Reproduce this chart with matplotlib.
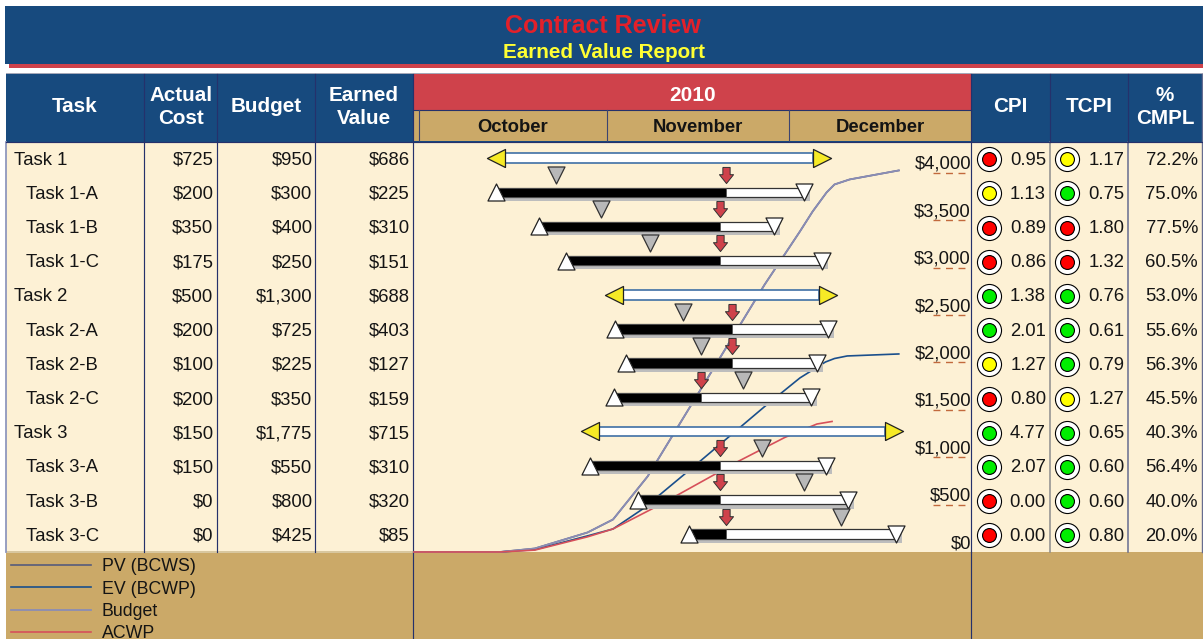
import matplotlib
matplotlib.use('Agg')
import matplotlib.pyplot as plt
from matplotlib.markers import MarkerStyle
from matplotlib.path import Path
from matplotlib.patches import Rectangle
from matplotlib.transforms import blended_transform_factory

plt.rcParams['font.family'] = ['Liberation Sans', 'DejaVu Sans']

###############################################################################
## data
###############################################################################

tasks = ['Task 1', 'Task 1-A', 'Task 1-B', 'Task 1-C', 'Task 2', 'Task 2-A',
         'Task 2-B', 'Task 2-C', 'Task 3', 'Task 3-A', 'Task 3-B', 'Task 3-C']
actual_cost = ['$725', '$200', '$350', '$175', '$500', '$200', '$100', '$200',
               '$150', '$150', '$0', '$0']
budget = ['$950', '$300', '$400', '$250', '$1,300', '$725', '$225', '$350',
          '$1,775', '$550', '$800', '$425']
earned_value = ['$686', '$225', '$310', '$151', '$688', '$403', '$127', '$159',
                '$715', '$310', '$320', '$85']
cpi = ['0.95', '1.13', '0.89', '0.86', '1.38', '2.01', '1.27', '0.80', '4.77',
       '2.07', '0.00', '0.00']
tcpi = ['1.17', '0.75', '1.80', '1.32', '0.76', '0.61', '0.79', '1.27', '0.65',
        '0.60', '0.60', '0.80']
cmpl = ['72.2%', '75.0%', '77.5%', '60.5%', '53.0%', '55.6%', '56.3%', '45.5%',
        '40.3%', '56.4%', '40.0%', '20.0%']
cpi_light = ['r', 'y', 'r', 'r', 'g', 'g', 'y', 'r', 'g', 'g', 'r', 'r']
tcpi_light = ['y', 'g', 'r', 'r', 'g', 'g', 'g', 'y', 'g', 'g', 'g', 'g']

# schedule, in days since Oct 1
summary_rows = [0, 4, 8]
summary_start = [14.2, 33.6, 29.7]
summary_end = [64.9, 65.9, 76.9]
task_rows = [1, 2, 3, 5, 6, 7, 9, 10, 11]
task_start = [12.7, 19.8, 24.2, 32.3, 34.1, 32.1, 28.2, 36.2, 44.5]
task_end = [63.4, 58.5, 66.4, 67.5, 65.6, 64.6, 67.1, 70.7, 78.6]
task_progress = [50.6, 49.6, 49.6, 51.6, 51.6, 46.5, 49.6, 49.6, 50.6]
task_baseline = [22.6, 30.1, 38.1, 43.5, 46.5, 53.4, 56.5, 63.4, 69.5]

months = ['October', 'November', 'December']
month_start = [0, 31, 61]
month_end = [31, 61, 91]

dollar_ticks = [0, 500, 1000, 1500, 2000, 2500, 3000, 3500, 4000]

budget_days = [-0.8, 13.3, 19.1, 27.8, 32.0, 37.7, 57.0, 62.8, 64.9, 67.2, 68.5, 71.0, 79.1]
budget_cost = [0, 0, 37, 206, 343, 797, 2822, 3381, 3592, 3793, 3877, 3930, 4025]
ev_days = [-0.8, 13.3, 19.1, 27.8, 32.0, 36.9, 46.3, 57.0, 62.8, 67.0, 68.5, 70.6, 79.1]
ev_cost = [0, 0, 25, 170, 243, 454, 955, 1535, 1836, 2004, 2041, 2068, 2089]
acwp_days = [-0.8, 13.3, 19.1, 27.8, 32.0, 38.4, 42.5, 52.6, 60.3, 64.2, 65.6, 68.1]
acwp_cost = [0, 0, 20, 160, 243, 454, 596, 955, 1208, 1313, 1350, 1377]

###############################################################################
## colours and layout
###############################################################################

BLUE = '#174a7e'
RED = '#cf424b'
TAN = '#cba968'
CREAM = '#fdf1d5'
NAVY = '#25316b'
INK = '#141414'
LIGHTS = {'r': '#ff0000', 'y': '#ffff00', 'g': '#00ee00'}
BODY_SIZE = 13.3

ROW_TOP = 142
ROW_H = 34.2
BOTTOM = 552


def row_y(i):
    return ROW_TOP + ROW_H*(i + 0.5)


def box(ax, x0, y0, x1, y1, color, **kw):
    ax.add_patch(Rectangle((x0, y0), x1 - x0, y1 - y0, facecolor=color,
                           edgecolor='none', **kw))


fig = plt.figure(figsize=(12.03, 6.39), dpi=100, facecolor='white')

# full figure axes in pixels, holds the table
bg = fig.add_axes([0, 0, 1, 1])
bg.set_xlim(0, 1203)
bg.set_ylim(639, 0)
bg.axis('off')

###############################################################################
## title and table
###############################################################################

box(bg, 9, 60, 1203, 68, RED)
box(bg, 5, 6, 1203, 64, BLUE)
bg.text(603, 26, 'Contract Review', color='#e3202a', fontsize=18, weight='bold',
        ha='center', va='center')
bg.text(604, 52, 'Earned Value Report', color='#ffff33', fontsize=14.9,
        weight='bold', ha='center', va='center')

box(bg, 6, 73, 1203, 75, '#a5a8b8')
box(bg, 6, 74, 1203, 142, BLUE)
box(bg, 6, ROW_TOP, 1203, BOTTOM, CREAM)
box(bg, 6, BOTTOM, 1203, 639, TAN)
box(bg, 6, BOTTOM - 1, 413, BOTTOM + 1, '#d8c79f')
box(bg, 413, 74, 971, 109.5, RED)
box(bg, 413, 110, 971, 141, TAN)
bg.plot([6, 6], [ROW_TOP, BOTTOM], color='#8f97bd', lw=1.3)

header_x = [75, 181, 266.5, 364, 1010.5, 1089, 1165]
header_text = ['Task', 'Actual\nCost', 'Budget', 'Earned\nValue', 'CPI', 'TCPI', '%\nCMPL']
for x, label in zip(header_x, header_text):
    bg.text(x, 107, label, color='white', fontsize=14.9, weight='bold',
            ha='center', va='center', linespacing=1.22)
bg.text(692.5, 95.5, '2010', color='white', fontsize=15, weight='bold',
        ha='center', va='center')

# column lines
for x in [144, 217, 315, 413, 971]:
    bg.plot([x, x], [74, BOTTOM], color=NAVY, lw=0.85)
for x in [413, 971]:
    bg.plot([x, x], [BOTTOM, 639], color=NAVY, lw=0.85)
for x, c in [(1050, '#8c8c8c'), (1128, '#666c90')]:
    bg.plot([x, x], [ROW_TOP, BOTTOM], color=c, lw=1.1)
    bg.plot([x, x], [74, ROW_TOP], color=NAVY, lw=0.85)
bg.plot([1202, 1202], [74, BOTTOM], color='#666c90', lw=1)
bg.plot([6, 1203], [141.5, 141.5], color=NAVY, lw=0.85)
bg.plot([413, 971], [109.5, 109.5], color=NAVY, lw=0.8)

for i in range(len(tasks)):
    y = row_y(i) + 1
    indent = 14 if i in summary_rows else 26
    bg.text(indent, y, tasks[i], color=INK, fontsize=BODY_SIZE, ha='left', va='center')
    bg.text(213.5, y, actual_cost[i], color=INK, fontsize=BODY_SIZE, ha='right', va='center')
    bg.text(312.5, y, budget[i], color=INK, fontsize=BODY_SIZE, ha='right', va='center')
    bg.text(409.5, y, earned_value[i], color=INK, fontsize=BODY_SIZE, ha='right', va='center')
    bg.text(1046, y, cpi[i], color=INK, fontsize=BODY_SIZE, ha='right', va='center')
    bg.text(1124.5, y, tcpi[i], color=INK, fontsize=BODY_SIZE, ha='right', va='center')
    bg.text(1198, y, cmpl[i], color=INK, fontsize=BODY_SIZE, ha='right', va='center')
    for x, light in [(988.7, cpi_light[i]), (1066.7, tcpi_light[i])]:
        bg.scatter([x], [row_y(i)], s=300, c='white', edgecolors='black', linewidths=0.8, zorder=3)
        bg.scatter([x], [row_y(i)], s=100, c=LIGHTS[light], edgecolors='black', linewidths=0.8, zorder=4)

###############################################################################
## cost curves, days against dollars
###############################################################################

chart_box = [414/1203, 1 - BOTTOM/639, (971 - 414)/1203, (BOTTOM - ROW_TOP)/639]
ax = fig.add_axes(chart_box)
ax.patch.set_alpha(0)
ax.set_xlim(-0.8, 91)
ax.set_ylim(0, 4325)
ax.axis('off')

pv_line, = ax.plot(budget_days, budget_cost, color='#565c7c', lw=1.2, clip_on=False)
ev_line, = ax.plot(ev_days, ev_cost, color='#1a4f8c', lw=1.2, clip_on=False)
budget_line, = ax.plot(budget_days, budget_cost, color='#8a8db5', lw=1.3, clip_on=False)
acwp_line, = ax.plot(acwp_days, acwp_cost, color='#d6505a', lw=1.2, clip_on=False)

trans = blended_transform_factory(ax.transAxes, ax.transData)
for v in dollar_ticks:
    if v > 0:
        ax.plot([0.932, 1.0], [v, v], color='#c2693c', lw=1, ls=(0, (5, 4)), transform=trans)
    ax.annotate('${:,}'.format(v), (1.0, v), xycoords=trans, xytext=(0, 0),
                textcoords='offset points', ha='right', va='bottom',
                fontsize=BODY_SIZE, color=INK)

leg = ax.legend([pv_line, ev_line, budget_line, acwp_line],
                ['PV (BCWS)', 'EV (BCWP)', 'Budget', 'ACWP'],
                loc='upper left', bbox_to_anchor=(5/1203, 1 - 552/639),
                bbox_transform=fig.transFigure, frameon=False, fontsize=12.8,
                handlelength=4.5, handletextpad=0.6, labelspacing=0.3,
                borderaxespad=0, borderpad=0.35, labelcolor=INK)
leg.set_clip_on(False)

###############################################################################
## gantt, days against rows
###############################################################################

gantt = fig.add_axes(chart_box)
gantt.patch.set_alpha(0)
gantt.set_xlim(-0.8, 91)
gantt.set_ylim(11.5, -0.5)
gantt.axis('off')

left_tip = MarkerStyle(Path([(0, -0.5), (0, 0.5), (-1, 0), (0, -0.5)]))
right_tip = MarkerStyle(Path([(0, -0.5), (0, 0.5), (1, 0), (0, -0.5)]))
down_arrow = MarkerStyle(Path([(-0.45, 1), (0.45, 1), (0.45, 0.1), (0.875, 0.1), (0, -1),
                               (-0.875, 0.1), (-0.45, 0.1), (-0.45, 1)]))

# summary bars
for row, start, end in zip(summary_rows, summary_start, summary_end):
    gantt.barh(row - 0.03, end - start, left=start, height=0.28, color='white',
               edgecolor='#3f70a5', linewidth=1.2, zorder=2)
gantt.scatter(summary_start, [r - 0.03 for r in summary_rows], marker=left_tip, s=676,
              c='#f6ea26', edgecolors='#222222', linewidths=0.9, zorder=3)
gantt.scatter(summary_end, [r - 0.03 for r in summary_rows], marker=right_tip, s=676,
              c='#f6ea26', edgecolors='#222222', linewidths=0.9, zorder=3)

# task bars
for row, start, end, prog in zip(task_rows, task_start, task_end, task_progress):
    gantt.barh(row + 0.09, end - start + 0.5, left=start + 0.5, height=0.28,
               color='#bdbdbd', zorder=2)
    gantt.barh(row - 0.03, end - start, left=start, height=0.27, color='white',
               edgecolor='#333333', linewidth=0.9, zorder=3)
    gantt.barh(row - 0.03, prog - start, left=start, height=0.27, color='black',
               edgecolor='#555555', linewidth=0.6, zorder=3)

task_y = [r - 0.03 for r in task_rows]
marker_y = [r - 0.535 for r in task_rows]
gantt.scatter(task_start, task_y, marker='^', s=150, c='white', edgecolors='#222222',
              linewidths=0.9, zorder=4)
gantt.scatter(task_end, task_y, marker='v', s=150, c='white', edgecolors='#222222',
              linewidths=0.9, zorder=4)
gantt.scatter(task_baseline, marker_y, marker='v', s=150, c='#b8b8b8', edgecolors='#333333',
              linewidths=0.9, zorder=5)
gantt.scatter(task_progress, marker_y, marker=down_arrow, s=135, c=RED, edgecolors='#333333',
              linewidths=0.7, zorder=5)

# month labels and separators live on the day scale too
month_trans = blended_transform_factory(gantt.transData, fig.transFigure)
for name, m0, m1 in zip(months, month_start, month_end):
    gantt.text((m0 + m1)/2, 1 - 127.5/639, name, transform=month_trans, ha='center',
               va='center', fontsize=BODY_SIZE, weight='bold', color=INK)
    gantt.plot([m0, m0], [1 - 110/639, 1 - 141/639], transform=month_trans,
               color='#3c4470', lw=0.8, clip_on=False)

fig.savefig('out.png', dpi=100)
